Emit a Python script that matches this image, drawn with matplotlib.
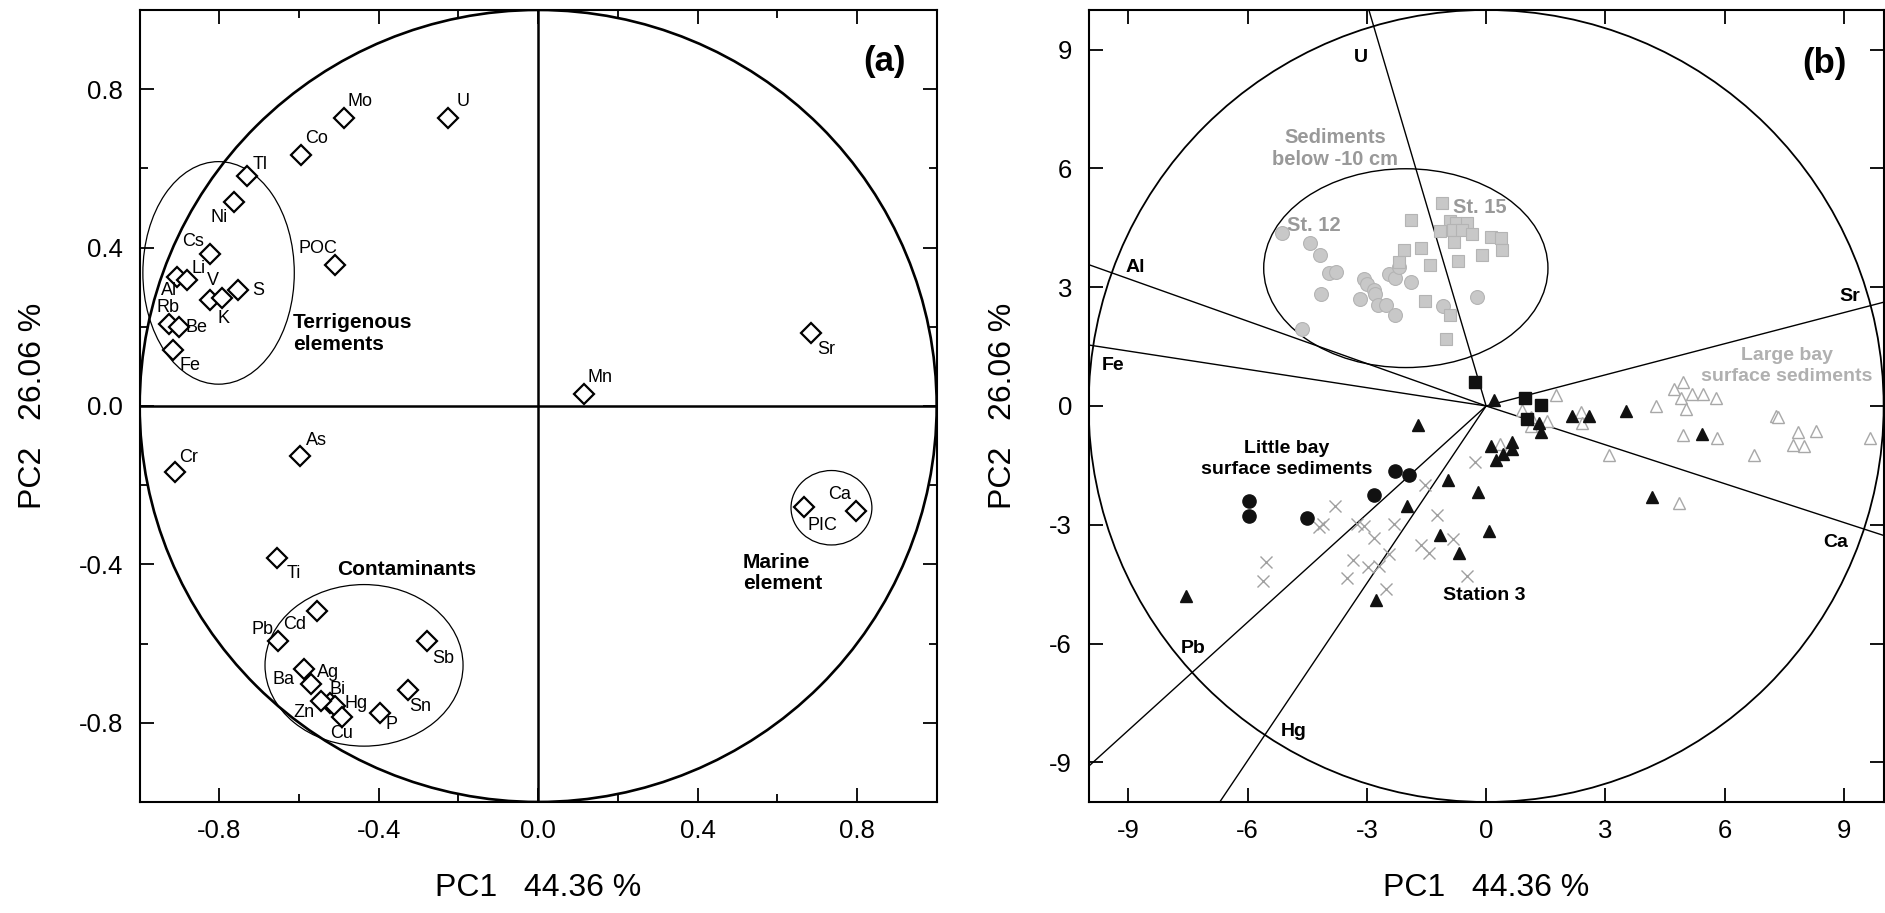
import numpy as np
import matplotlib
matplotlib.use("Agg")
import matplotlib.pyplot as plt
from matplotlib.patches import Circle, Ellipse
from matplotlib.ticker import MultipleLocator, FormatStrFormatter

plt.rcParams['font.family'] = ['Liberation Sans', 'DejaVu Sans']
plt.rcParams['axes.unicode_minus'] = False

#---------------------------------DATA (a): variable loadings
elements = ["Mo", "U", "Co", "Tl", "Ni", "Cs", "POC", "Al", "Li", "V", "K", "S",
            "Rb", "Be", "Fe", "Cr", "As", "Ti", "Cd", "Pb", "Sb", "Ag", "Ba",
            "Bi", "Hg", "Zn", "Cu", "P", "Sn", "Sr", "Mn", "PIC", "Ca"]
pc1_load = [-0.487, -0.226, -0.596, -0.731, -0.764, -0.824, -0.510, -0.907, -0.881, -0.824, -0.794, -0.754,
            -0.927, -0.901, -0.916, -0.911, -0.598, -0.656, -0.556, -0.652, -0.280, -0.588, -0.570,
            -0.523, -0.510, -0.546, -0.493, -0.397, -0.326, 0.685, 0.115, 0.668, 0.798]
pc2_load = [0.728, 0.728, 0.634, 0.580, 0.516, 0.384, 0.355, 0.325, 0.317, 0.268, 0.273, 0.292,
            0.208, 0.199, 0.142, -0.168, -0.126, -0.384, -0.519, -0.594, -0.594, -0.665, -0.703,
            -0.749, -0.758, -0.745, -0.786, -0.775, -0.716, 0.184, 0.031, -0.256, -0.264]

# label offsets in pixels from each diamond
label_off = {"Mo": (16, 16), "U": (15, 16), "Co": (16, 16), "Tl": (13, 12), "Ni": (-15, -16),
             "Cs": (-17, 12), "POC": (-17, 17), "Al": (-8, -13), "Li": (11, 12), "V": (3, 19),
             "K": (2, -21), "S": (20, 0), "Rb": (-1, 16), "Be": (17, 0), "Fe": (17, -16),
             "Cr": (13, 15), "As": (17, 15), "Ti": (17, -15), "Cd": (-22, -13), "Pb": (-16, 12),
             "Sb": (17, -17), "Ag": (24, -3), "Ba": (-28, 5), "Bi": (8, 13), "Hg": (21, 3),
             "Zn": (-17, -12), "Cu": (0, -16), "P": (12, -12), "Sn": (12, -17), "Sr": (15, -16),
             "Mn": (16, 16), "PIC": (18, -18), "Ca": (-17, 16)}

#---------------------------------DATA (b): sample scores
sed12_x = [-5.14, -4.42, -4.17, -3.96, -3.77, -4.15, -4.62, -3.08, -3.00, -2.83, -2.79, -3.18, -2.72,
           -2.51, -2.30, -2.45, -2.30, -2.20, -1.88, -1.08, -0.24]
sed12_y = [4.37, 4.12, 3.81, 3.36, 3.39, 2.83, 1.95, 3.21, 3.08, 2.94, 2.83, 2.71, 2.56,
           2.56, 2.29, 3.34, 3.23, 3.50, 3.13, 2.52, 2.75]
sed15_x = [-1.11, -1.88, -0.91, -0.75, -0.48, -1.15, -0.83, -0.60, -0.35, 0.11, 0.38, 0.39, -0.81,
           -1.65, -2.07, -0.10, -0.70, -2.20, -1.40, -1.53, -0.91, -1.01]
sed15_y = [5.12, 4.69, 4.68, 4.62, 4.62, 4.41, 4.45, 4.45, 4.34, 4.26, 4.23, 3.93, 4.14,
           3.99, 3.93, 3.81, 3.67, 3.63, 3.55, 2.65, 2.29, 1.68]
little_x = [-2.28, -1.95, -2.81, -5.96, -5.96, -4.51]
little_y = [-1.63, -1.74, -2.24, -2.39, -2.79, -2.84]
st3_x = [0.21, -1.71, 0.13, 0.64, 0.64, 0.43, 0.26, -0.95, -0.20, -2.00, -1.15, 0.07, -0.67,
         -7.55, -2.76, 1.39, 2.15, 2.59, 3.51, 5.42, 4.17, 1.33]
st3_y = [0.15, -0.48, -1.01, -0.92, -1.09, -1.21, -1.36, -1.87, -2.18, -2.53, -3.25, -3.15, -3.72,
         -4.81, -4.91, -0.67, -0.25, -0.25, -0.12, -0.70, -2.31, -0.42]
blk_sq_x = [-0.29, 0.99, 1.37, 1.02]
blk_sq_y = [0.61, 0.21, 0.02, -0.33]
large_x = [1.77, 0.89, 1.12, 1.12, 1.54, 2.38, 2.40, 0.36, 3.09, 4.27, 4.73, 4.96, 5.17, 5.46,
           4.90, 5.78, 5.02, 4.94, 5.80, 4.84, 6.73, 7.29, 7.35, 7.84, 8.31, 7.71, 8.00, 9.66]
large_y = [0.27, -0.11, -0.29, -0.50, -0.38, -0.14, -0.44, -0.96, -1.23, 0.00, 0.42, 0.61, 0.31, 0.31,
           0.19, 0.19, -0.08, -0.73, -0.80, -2.45, -1.23, -0.25, -0.27, -0.67, -0.63, -0.98, -1.01, -0.82]
cross_x = [-0.27, -1.53, -3.81, -4.21, -4.11, -3.25, -3.08, -2.32, -1.23, -2.81, -0.83, -1.65,
           -1.44, -2.45, -5.54, -5.62, -3.36, -2.98, -2.70, -3.50, -2.51, -0.48]
cross_y = [-1.41, -1.99, -2.52, -3.06, -2.99, -2.98, -3.02, -2.99, -2.75, -3.33, -3.36, -3.52,
           -3.72, -3.73, -3.94, -4.41, -3.88, -4.07, -4.03, -4.34, -4.62, -4.30]

# variable vectors (end points on the frame)
ray_names = ["U", "Al", "Fe", "Sr", "Ca", "Pb", "Hg"]
ray_x = [-2.95, -10.0, -10.0, 10.0, 10.0, -10.0, -6.70]
ray_y = [10.0, 3.57, 1.54, 2.62, -3.27, -9.10, -10.0]
ray_lbl = {"U": (-3.15, 8.8), "Al": (-8.83, 3.49), "Fe": (-9.38, 1.01), "Sr": (9.14, 2.77),
           "Ca": (8.80, -3.44), "Pb": (-7.36, -6.13), "Hg": (-4.85, -8.21)}

#---------------------------------FIGURE
fig = plt.figure(figsize=(18.85, 9.13), dpi=100)
ax1 = fig.add_axes([0.0741, 0.1216, 0.4228, 0.8675])
ax2 = fig.add_axes([0.5775, 0.1216, 0.4218, 0.8675])

def style_axes(ax):
    for sp in ax.spines.values():
        sp.set_linewidth(1.5)
    ax.tick_params(which='both', direction='in', top=True, right=True, width=1.3,
                   labelsize=18.5, pad=12)
    ax.tick_params(which='major', length=10)
    ax.tick_params(which='minor', length=6)

#---------------------------------PANEL (a)
style_axes(ax1)
ax1.set_xlim(-1, 1)
ax1.set_ylim(-1, 1)
ax1.xaxis.set_major_locator(MultipleLocator(0.4))
ax1.yaxis.set_major_locator(MultipleLocator(0.4))
ax1.xaxis.set_minor_locator(MultipleLocator(0.2))
ax1.yaxis.set_minor_locator(MultipleLocator(0.2))
ax1.xaxis.set_major_formatter(FormatStrFormatter('%.1f'))
ax1.yaxis.set_major_formatter(FormatStrFormatter('%.1f'))
ax1.axhline(0, color='black', lw=1.8, zorder=1)
ax1.axvline(0, color='black', lw=1.8, zorder=1)
ax1.add_patch(Circle((0, 0), 1.0, fill=False, lw=1.9, color='black', zorder=1))
ax1.add_patch(Ellipse((-0.802, 0.336), 0.380, 0.562, fill=False, lw=0.9, color='black'))
ax1.add_patch(Ellipse((-0.437, -0.655), 0.497, 0.408, fill=False, lw=0.9, color='black'))
ax1.add_patch(Ellipse((0.736, -0.257), 0.203, 0.188, fill=False, lw=0.9, color='black'))

ax1.plot(pc1_load, pc2_load, 'D', ms=10, mfc='white', mec='black', mew=1.6, zorder=3)
for name, x, y in zip(elements, pc1_load, pc2_load):
    ax1.annotate(name, (x, y), xytext=label_off[name], textcoords='offset pixels',
                 ha='center', va='center', fontsize=13, zorder=4)

ax1.text(-0.615, 0.183, "Terrigenous\nelements", fontsize=15, fontweight='bold',
         ha='left', va='center', linespacing=1.15)
ax1.text(-0.329, -0.412, "Contaminants", fontsize=15, fontweight='bold', ha='center', va='center')
ax1.text(0.514, -0.421, "Marine\nelement", fontsize=15, fontweight='bold',
         ha='left', va='center', linespacing=1.15)
ax1.text(0.87, 0.87, "(a)", fontsize=25, fontweight='bold', ha='center', va='center')
ax1.set_xlabel("PC1   44.36 %", fontsize=23, labelpad=22)
ax1.set_ylabel("PC2   26.06 %", fontsize=23, labelpad=22)

#---------------------------------PANEL (b)
style_axes(ax2)
ax2.set_xlim(-10, 10)
ax2.set_ylim(-10, 10)
ax2.set_xticks(np.arange(-9, 10, 3))
ax2.set_yticks(np.arange(-9, 10, 3))
ax2.add_patch(Circle((0, 0), 10.0, fill=False, lw=1.3, color='black', zorder=1))
ax2.add_patch(Ellipse((-2.02, 3.48), 7.15, 5.02, fill=False, lw=1.0, color='black', zorder=1))
for name, ex, ey in zip(ray_names, ray_x, ray_y):
    ax2.plot([0, ex], [0, ey], color='black', lw=1.0, zorder=1)
    lx, ly = ray_lbl[name]
    ax2.text(lx, ly, name, fontsize=14, fontweight='bold', ha='center', va='center')

ax2.plot(sed12_x, sed12_y, 'o', ms=10, mfc='#c8c8c8', mec='#b4b4b4', mew=0.8, zorder=2)
ax2.plot(sed15_x, sed15_y, 's', ms=8.5, mfc='#c8c8c8', mec='#b4b4b4', mew=0.8, zorder=2)
ax2.plot(large_x, large_y, '^', ms=9, mfc='white', mec='#a8a8a8', mew=1.0, zorder=2)
ax2.plot(cross_x, cross_y, 'x', ms=9, mec='#a0a0a0', mew=1.0, zorder=2)
ax2.plot(little_x, little_y, 'o', ms=9.5, mfc='#111111', mec='#111111', zorder=3)
ax2.plot(st3_x, st3_y, '^', ms=8.5, mfc='#111111', mec='#111111', zorder=3)
ax2.plot(blk_sq_x, blk_sq_y, 's', ms=8, mfc='#111111', mec='#111111', zorder=3)

gray_txt = '#999999'
ax2.text(-3.8, 6.5, "Sediments\nbelow -10 cm", fontsize=14.5, fontweight='bold', color=gray_txt,
         ha='center', va='center', linespacing=1.25)
ax2.text(-4.34, 4.56, "St. 12", fontsize=14.5, fontweight='bold', color=gray_txt, ha='center', va='center')
ax2.text(-0.16, 5.0, "St. 15", fontsize=14.5, fontweight='bold', color=gray_txt, ha='center', va='center')
ax2.text(7.57, 1.01, "Large bay\nsurface sediments", fontsize=14, fontweight='bold', color='#b0b0b0',
         ha='center', va='center', linespacing=1.25)
ax2.text(-5.02, -1.34, "Little bay\nsurface sediments", fontsize=14, fontweight='bold',
         ha='center', va='center', linespacing=1.25)
ax2.text(-0.04, -4.78, "Station 3", fontsize=14, fontweight='bold', ha='center', va='center')
ax2.text(8.5, 8.65, "(b)", fontsize=25, fontweight='bold', ha='center', va='center')
ax2.set_xlabel("PC1   44.36 %", fontsize=23, labelpad=22)
ax2.set_ylabel("PC2   26.06 %", fontsize=23, labelpad=22)

fig.savefig("out.png", dpi=100)
